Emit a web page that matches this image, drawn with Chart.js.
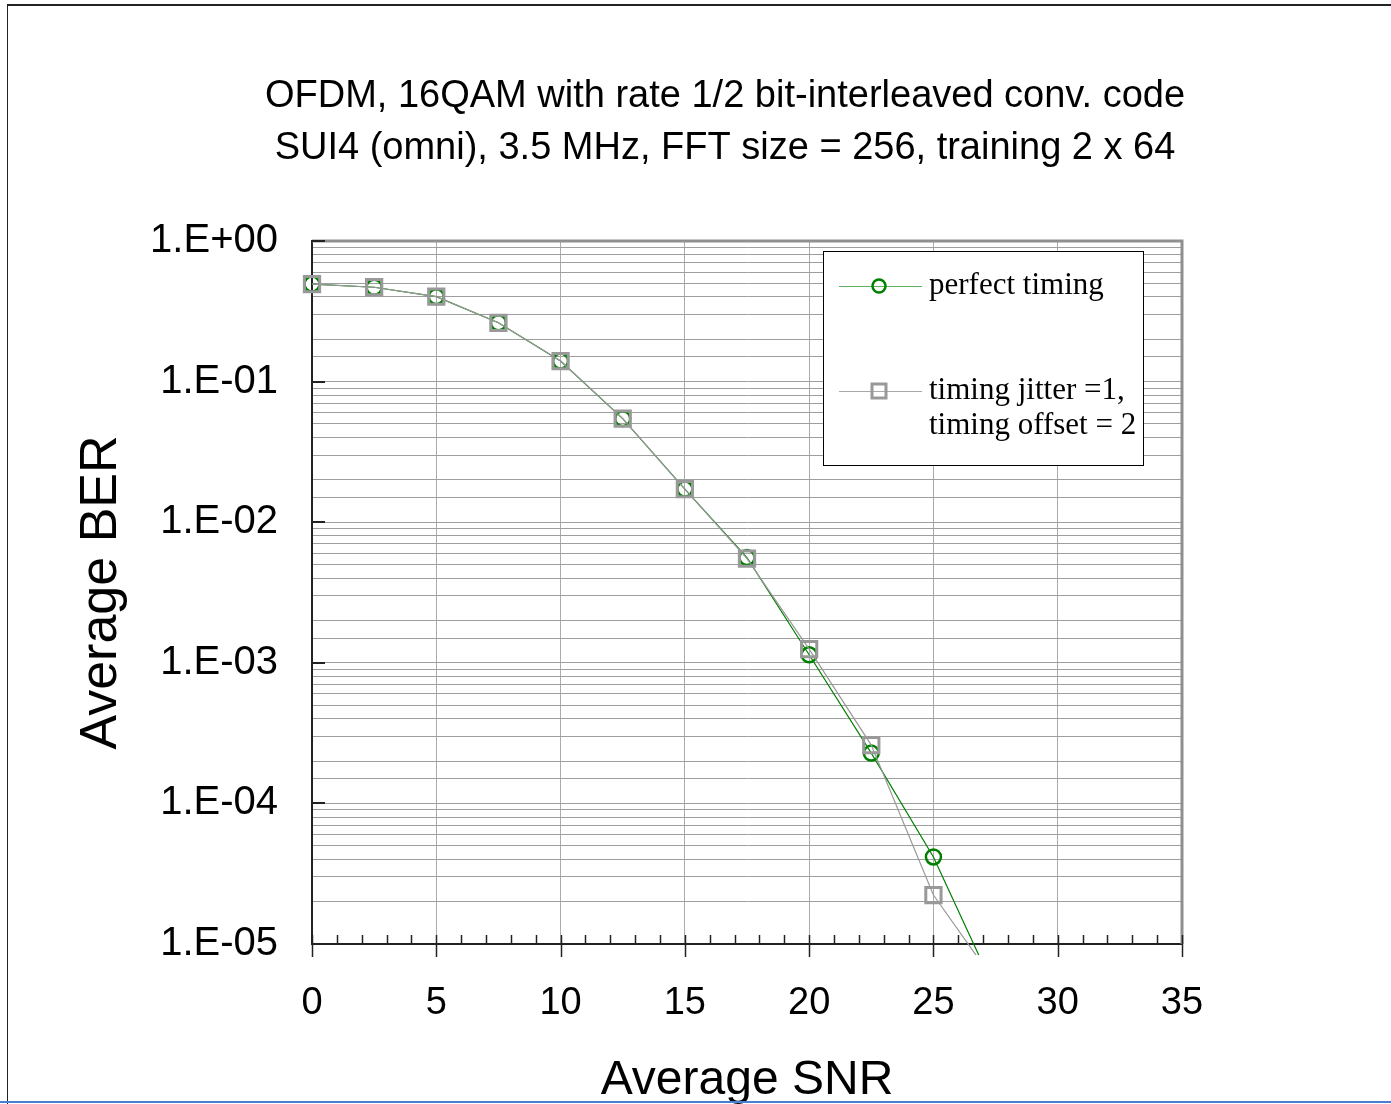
<!DOCTYPE html>
<html>
<head>
<meta charset="utf-8">
<script src="https://cdn.jsdelivr.net/npm/chart.js@4.4.1/dist/chart.umd.min.js"></script>
<style>
  html, body { margin: 0; padding: 0; background: #fff; overflow: hidden; }
  #wrap { position: relative; width: 1391px; height: 1104px; overflow: hidden; background: #fff; }
  #ber-chart { position: absolute; left: 0; top: 0; }
  #frame { position: absolute; left: 7px; top: 4px; right: 0; bottom: 0; border-top: 2px solid #222; border-left: 1px solid #222; pointer-events: none; }
  #edge { position: absolute; left: 0; right: 0; top: 1101px; height: 2px; background: #4a7fd6; }
</style>
</head>
<body>
<div id="wrap">
  <canvas id="ber-chart" width="1391" height="1120"></canvas>
  <div id="frame"></div>
  <div id="edge"></div>
</div>
<script>
// values (last point only sets the line running out below the axis)
const snr = [0, 2.5, 5, 7.5, 10, 12.5, 15, 17.5, 20, 22.5, 25, 27.5];
const berPerfect = [0.494, 0.469, 0.402, 0.262, 0.140, 0.0545, 0.0172, 0.0056, 0.00114, 0.000228, 0.0000416, 0.0000046];
const berJitter = [0.494, 0.469, 0.402, 0.262, 0.140, 0.0545, 0.0172, 0.0055, 0.00125, 0.00026, 0.0000223, 0.0000053];

const xTicks = [0, 5, 10, 15, 20, 25, 30, 35];
const yTickLabels = ["1.E+00", "1.E-01", "1.E-02", "1.E-03", "1.E-04", "1.E-05"];
const titleLines = [
  "OFDM, 16QAM with rate 1/2 bit-interleaved conv. code",
  "SUI4 (omni), 3.5 MHz, FFT size = 256, training 2 x 64",
];
const legendLabels = [["perfect timing"], ["timing jitter =1,", "timing offset = 2"]];

const GREEN = "#008000";
const GREY = "#999999";
const SANS = "Arial, 'Liberation Sans', sans-serif";
const SERIF = "'Times New Roman', 'Liberation Serif', serif";

const titlePlugin = {
  id: "twoLineTitle",
  afterDraw(chart) {
    const ctx = chart.ctx;
    ctx.save();
    ctx.fillStyle = "#000";
    ctx.font = "38px " + SANS;
    ctx.textAlign = "center";
    ctx.textBaseline = "middle";
    titleLines.forEach((line, i) => ctx.fillText(line, 725, 97 + i * 52));
    ctx.restore();
  },
};

const axisPlugin = {
  id: "axisDecor",
  afterDatasetsDraw(chart) {
    const { ctx, chartArea: a, scales } = chart;
    const xs = scales.x;
    const ys = scales.y;
    ctx.save();
    // top and right edge of the plot area
    ctx.strokeStyle = "#8f8f8f";
    ctx.lineWidth = 3;
    ctx.beginPath();
    ctx.moveTo(a.left, a.top);
    ctx.lineTo(a.right, a.top);
    ctx.lineTo(a.right, a.bottom);
    ctx.stroke();

    // x ticks: minor every 1, major every 5 crossing the axis
    ctx.strokeStyle = "#222";
    ctx.lineWidth = 1.5;
    for (let v = xs.min; v <= xs.max; v++) {
      const px = Math.round(xs.getPixelForValue(v)) + 0.5;
      const major = v % 5 === 0;
      ctx.beginPath();
      ctx.moveTo(px, a.bottom - 9);
      ctx.lineTo(px, major ? a.bottom + 13 : a.bottom);
      ctx.stroke();
    }

    // y decade ticks, inside the plot
    ctx.lineWidth = 2;
    yTickLabels.forEach((lab, i) => {
      const py = Math.round(ys.getPixelForValue(Math.pow(10, -i)));
      ctx.beginPath();
      ctx.moveTo(a.left, py);
      ctx.lineTo(a.left + 13, py);
      ctx.stroke();
    });
    ctx.restore();
  },
  afterDraw(chart) {
    // legend box in the top right of the plot
    const { ctx, chartArea: a } = chart;
    const bx = a.right - 359;
    const by = a.top + 10;
    ctx.save();
    ctx.fillStyle = "#fff";
    ctx.fillRect(bx, by, 320, 214);
    ctx.strokeStyle = "#000";
    ctx.lineWidth = 1;
    ctx.strokeRect(bx + 0.5, by + 0.5, 320, 214);

    const rows = [by + 35, by + 140];
    chart.data.datasets.forEach((ds, i) => {
      const ry = rows[i];
      ctx.strokeStyle = i === 0 ? "#5fb35f" : "#a8a8a8";
      ctx.lineWidth = 1;
      ctx.beginPath();
      ctx.moveTo(bx + 16, ry + 0.5);
      ctx.lineTo(bx + 99, ry + 0.5);
      ctx.stroke();

      ctx.strokeStyle = ds.borderColor;
      ctx.lineWidth = ds.pointBorderWidth;
      ctx.beginPath();
      if (ds.pointStyle === "circle") {
        ctx.arc(bx + 56, ry, 6.5, 0, Math.PI * 2);
      } else {
        ctx.rect(bx + 49, ry - 7, 14, 14);
      }
      ctx.stroke();

      ctx.fillStyle = "#000";
      ctx.font = "31px " + SERIF;
      ctx.textAlign = "left";
      ctx.textBaseline = "middle";
      legendLabels[i].forEach((t, k) => ctx.fillText(t, bx + 106, ry + k * 35));
    });
    ctx.restore();
  },
};

const toPoints = (ys) => snr.map((x, i) => ({ x: x, y: ys[i] }));

new Chart(document.getElementById("ber-chart").getContext("2d"), {
  type: "line",
  data: {
    datasets: [
      {
        label: "perfect timing",
        data: toPoints(berPerfect),
        borderColor: GREEN,
        borderWidth: 1.2,
        backgroundColor: "rgba(0,0,0,0)",
        pointStyle: "circle",
        pointRadius: 7.5,
        pointBorderWidth: 2.5,
        pointBorderColor: GREEN,
        pointBackgroundColor: "rgba(0,0,0,0)",
        tension: 0,
        clip: { left: 20, top: 20, right: 20, bottom: 11 },
        order: 1,
      },
      {
        label: "timing jitter =1, timing offset = 2",
        data: toPoints(berJitter),
        borderColor: GREY,
        borderWidth: 1.2,
        backgroundColor: "rgba(0,0,0,0)",
        pointStyle: "rect",
        pointRadius: 10.8,
        pointBorderWidth: 3,
        pointBorderColor: GREY,
        pointBackgroundColor: "rgba(0,0,0,0)",
        tension: 0,
        clip: { left: 20, top: 20, right: 20, bottom: 11 },
        order: 0,
      },
    ],
  },
  options: {
    responsive: false,
    animation: false,
    events: [],
    layout: { padding: { left: 0, right: 209, top: 241, bottom: 0 } },
    plugins: {
      legend: { display: false },
      tooltip: { enabled: false },
      title: { display: false },
    },
    scales: {
      x: {
        type: "linear",
        min: 0,
        max: 35,
        afterBuildTicks: (s) => {
          s.ticks = xTicks.map((v) => ({ value: v }));
        },
        afterFit: (s) => {
          s.height = 176;
        },
        ticks: {
          autoSkip: false,
          maxRotation: 0,
          padding: 37,
          color: "#000",
          font: { family: SANS, size: 38 },
        },
        grid: { color: "#ababab", lineWidth: 1, drawTicks: false },
        border: { color: "#222", width: 2 },
        title: {
          display: true,
          text: "Average SNR",
          color: "#000",
          font: { family: SANS, size: 48 },
          padding: { top: 0, bottom: 10 },
        },
      },
      y: {
        type: "logarithmic",
        min: 1e-5,
        max: 1,
        afterFit: (s) => {
          s.width = 312;
        },
        ticks: {
          autoSkip: false,
          padding: 34,
          color: "#000",
          font: { family: SANS, size: 40 },
          callback: (v) => {
            const l = Math.log10(v);
            const e = Math.round(-l);
            return Math.abs(l + e) < 1e-6 ? yTickLabels[e] : "";
          },
        },
        grid: { color: "#9e9e9e", lineWidth: 1, drawTicks: false },
        border: { color: "#222", width: 2 },
        title: {
          display: true,
          text: "Average BER",
          color: "#000",
          font: { family: SANS, size: 52 },
          padding: { top: 70, bottom: 0 },
        },
      },
    },
  },
  plugins: [titlePlugin, axisPlugin],
});
</script>
</body>
</html>
